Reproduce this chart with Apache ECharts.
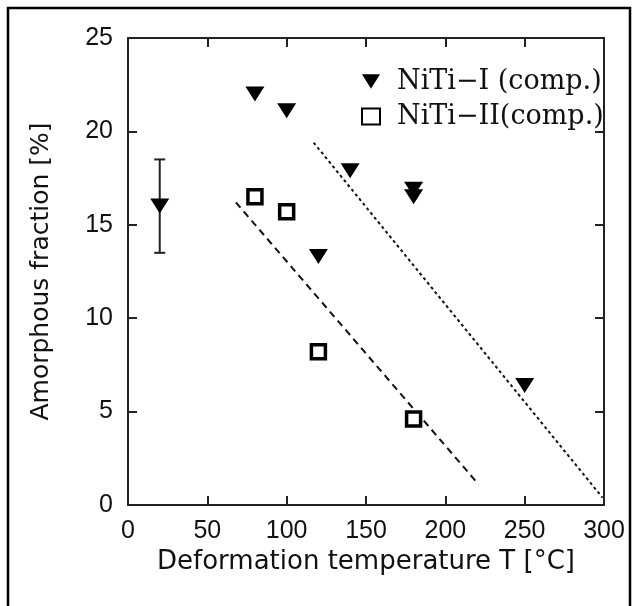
<!DOCTYPE html>
<html>
<head>
<meta charset="utf-8">
<script src="https://cdn.jsdelivr.net/npm/echarts@6/dist/echarts.min.js"></script>
<style>
  html, body { margin: 0; padding: 0; background: #fff; }
  .container { width: 637px; height: 606px; }
</style>
</head>
<body>
<div class="container"></div>
<script>
// NiTi-I (comp.) points
const tempI = [20, 80, 100, 120, 140, 180, 180, 250];
const fracI = [16.0, 22.0, 21.1, 13.3, 17.9, 16.9, 16.5, 6.4];
// NiTi-II (comp.) points
const tempII = [80, 100, 120, 180];
const fracII = [16.5, 15.7, 8.2, 4.6];
// error bar on the 20 °C point: [T, low, high]
const errBar = [20, 13.5, 18.5];
// guide lines
const lineI = [[117, 19.4], [299, 0.4]];
const lineII = [[68, 16.2], [221, 1.1]];
const xTicks = [0, 50, 100, 150, 200, 250, 300];
const yTicks = [0, 5, 10, 15, 20, 25];

(function () {
    let myChart = echarts.init(document.querySelector('.container'));

    const sans = 'Liberation Sans';
    // fresh objects for every axis so nothing gets shared
    const axisLine = () => ({ show: true, onZero: false, lineStyle: { color: '#222', width: 2 } });
    const axisTick = () => ({ show: true, inside: true, length: 9, lineStyle: { color: '#222', width: 2 } });

    const option = {
        animation: false,
        backgroundColor: '#fff',
        grid: { left: 128, right: 33, top: 38, bottom: 101 },
        legend: {
            orient: 'vertical',
            left: 356,
            top: 63,
            itemWidth: 18,
            itemHeight: 16,
            itemGap: 8,
            textStyle: { fontFamily: 'DejaVu Serif', fontSize: 27, color: '#111', padding: [0, 0, 0, 12] },
            data: [
                { name: 'NiTi−I (comp.)', icon: 'path://M0,0L20,0L10,16Z' },
                { name: 'NiTi−II(comp.)', icon: 'rect' }
            ]
        },
        xAxis: [
            {
                type: 'value', min: xTicks[0], max: xTicks[xTicks.length - 1], interval: 50,
                position: 'bottom',
                name: 'Deformation temperature T [°C]',
                nameLocation: 'middle', nameGap: 24,
                nameTextStyle: { fontFamily: 'DejaVu Sans', fontSize: 26, color: '#111' },
                axisLine: axisLine(), axisTick: axisTick(),
                axisLabel: { fontFamily: sans, fontSize: 25, color: '#111', margin: 14 },
                splitLine: { show: false }
            },
            {
                type: 'value', min: xTicks[0], max: xTicks[xTicks.length - 1], interval: 50,
                position: 'top',
                axisLine: axisLine(), axisTick: axisTick(),
                axisLabel: { show: false }, splitLine: { show: false }
            }
        ],
        yAxis: [
            {
                type: 'value', min: yTicks[0], max: yTicks[yTicks.length - 1], interval: 5,
                position: 'left',
                name: 'Amorphous fraction [%]',
                nameLocation: 'middle', nameGap: 74,
                nameTextStyle: { fontFamily: 'DejaVu Sans', fontSize: 25, color: '#111' },
                axisLine: axisLine(), axisTick: axisTick(),
                axisLabel: { fontFamily: sans, fontSize: 25, color: '#111', margin: 15 },
                splitLine: { show: false }
            },
            {
                type: 'value', min: yTicks[0], max: yTicks[yTicks.length - 1], interval: 5,
                position: 'right',
                axisLine: axisLine(), axisTick: axisTick(),
                axisLabel: { show: false }, splitLine: { show: false }
            }
        ],
        graphic: [
            {
                type: 'polyline',
                shape: { points: [[8, 606], [8, 8], [630, 8], [630, 606]] },
                style: { stroke: '#000', lineWidth: 2.5, fill: null },
                silent: true
            }
        ],
        series: [
            {
                name: 'NiTi−I (comp.)',
                type: 'scatter',
                symbol: 'triangle',
                symbolRotate: 180,
                symbolSize: [19, 15],
                itemStyle: { color: '#000', opacity: 1 },
                data: tempI.map((t, i) => [t, fracI[i]]),
                z: 5
            },
            {
                name: 'NiTi−II(comp.)',
                type: 'scatter',
                symbol: 'rect',
                symbolSize: 14,
                itemStyle: { color: '#fff', borderColor: '#000', borderWidth: 3.5, opacity: 1 },
                data: tempII.map((t, i) => [t, fracII[i]]),
                z: 5
            },
            {
                type: 'custom',
                renderItem: function (params, api) {
                    const top = api.coord([api.value(0), api.value(2)]);
                    const bot = api.coord([api.value(0), api.value(1)]);
                    const w = 5.5;
                    const st = { stroke: '#222', lineWidth: 2 };
                    return {
                        type: 'group',
                        children: [
                            { type: 'line', shape: { x1: top[0], y1: top[1], x2: bot[0], y2: bot[1] }, style: st },
                            { type: 'line', shape: { x1: top[0] - w, y1: top[1], x2: top[0] + w, y2: top[1] }, style: st },
                            { type: 'line', shape: { x1: bot[0] - w, y1: bot[1], x2: bot[0] + w, y2: bot[1] }, style: st }
                        ]
                    };
                },
                data: [errBar],
                z: 3
            },
            {
                type: 'line',
                data: lineI,
                symbol: 'none',
                lineStyle: { color: '#111', width: 2, type: [3, 3] },
                z: 2
            },
            {
                type: 'line',
                data: lineII,
                symbol: 'none',
                lineStyle: { color: '#111', width: 2, type: [7, 5] },
                z: 2
            }
        ]
    };

    myChart.setOption(option);
})();
</script>
</body>
</html>
